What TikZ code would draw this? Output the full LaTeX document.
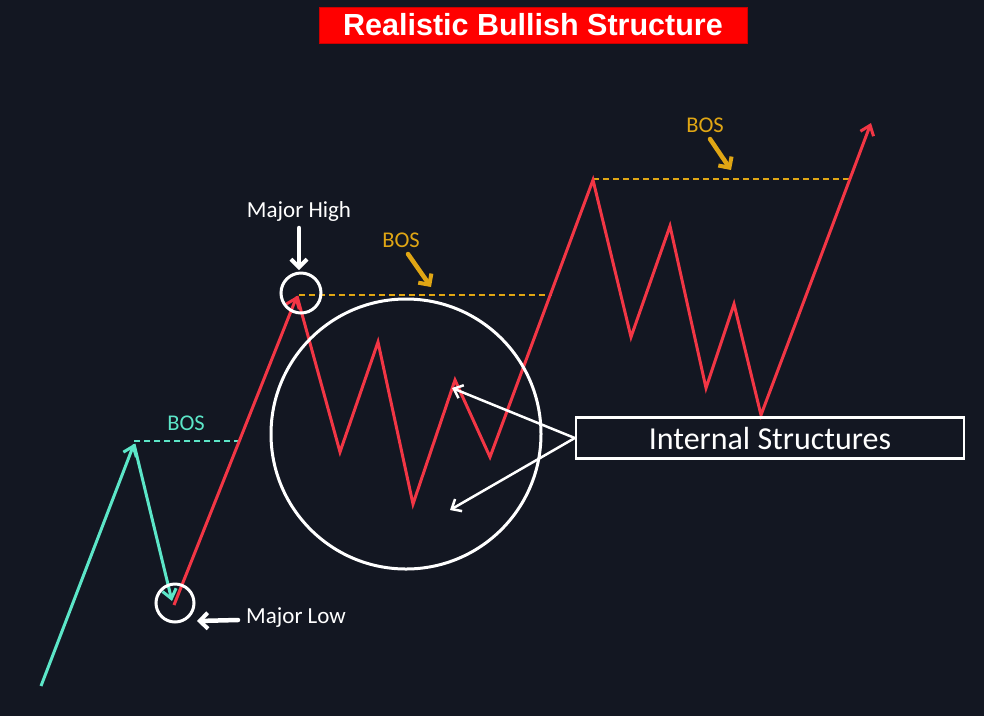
\documentclass[tikz,border=0pt]{standalone}
\usepackage{fontspec}
\setmainfont{Carlito}
\newfontfamily\titlefont{Liberation Sans}
\usetikzlibrary{arrows.meta}
\definecolor{bg}{HTML}{131722}
\definecolor{chartred}{HTML}{F23645}
\definecolor{chartcyan}{HTML}{5CE6C8}
\definecolor{bosyellow}{HTML}{E0A614}
\definecolor{titlered}{HTML}{FF0000}
\tikzset{
  redline/.style={draw=chartred, line width=3pt, line join=miter},
  cyanline/.style={draw=chartcyan, line width=3pt, line join=miter},
  tip/.style={-{Straight Barb[length=9pt,width=14pt,line width=3pt]}},
  bosline/.style={dashed, dash pattern=on 6pt off 4pt, line width=1.6pt},
  whitering/.style={draw=white, line width=3pt},
  lbl/.style={text=white, font=\fontsize{23}{27}\selectfont, inner sep=0pt},
  boslbl/.style={font=\fontsize{22.5}{26}\selectfont, inner sep=0pt},
  fatarrow/.style={line width=4.5pt, line cap=round, -{Straight Barb[length=8pt,width=16pt,line width=4pt]}},
  thinarrow/.style={draw=white, line width=2.5pt, -{Straight Barb[length=8pt,width=14pt,line width=2.5pt]}}
}
\begin{document}
\begin{tikzpicture}[x=1pt,y=-1pt]
\fill[bg] (0,0) rectangle (984,716);
\useasboundingbox (0,0) rectangle (984,716);

% title
\node[fill=titlered, draw=titlered!80!black, minimum width=428pt, minimum height=36pt, inner sep=0pt,
      text=white, font=\titlefont\bfseries\fontsize{30.5}{34}\selectfont] (title) at (533,25) {Realistic Bullish Structure};

% coordinates of the chart
\coordinate (c0) at (41,686);
\coordinate (c1) at (134,444);
\coordinate (c2) at (172,601);
\coordinate (r0) at (174,605);
\coordinate (mh) at (297,296);
\coordinate (p1) at (340,452);
\coordinate (p2) at (378,342);
\coordinate (p3) at (413,504);
\coordinate (p4) at (455,380);
\coordinate (p5) at (490,457);
\coordinate (p6) at (593,180);
\coordinate (p7) at (631,337);
\coordinate (p8) at (670,226);
\coordinate (p9) at (706,388);
\coordinate (p10) at (734,304);
\coordinate (p11) at (761,415);
\coordinate (top) at (871,123);

% BOS lines
\coordinate (b1s) at (134,441);
\coordinate (b1e) at (240,441);
\draw[bosline, draw=chartcyan] (b1s) -- (b1e);
\node[boslbl, text=chartcyan] (bos1) at (186,423) {BOS};

\coordinate (b2s) at (299,295);
\coordinate (b2e) at (552,295);
\draw[bosline, draw=bosyellow] (b2s) -- (b2e);
\node[boslbl, text=bosyellow] (bos2) at (401,240) {BOS};
\coordinate (a2s) at (408,254);
\coordinate (a2e) at (431,287);
\draw[fatarrow, draw=bosyellow] (a2s) -- (a2e);

\coordinate (b3s) at (593,179);
\coordinate (b3e) at (850,179);
\draw[bosline, draw=bosyellow] (b3s) -- (b3e);
\node[boslbl, text=bosyellow] (bos3) at (705,125) {BOS};
\coordinate (a3s) at (710,139);
\coordinate (a3e) at (731,170);
\draw[fatarrow, draw=bosyellow] (a3s) -- (a3e);

% cyan leg
\draw[cyanline, tip] (c0) -- (c1);
\draw[cyanline, tip] (c1) -- (c2);

% red legs
\draw[redline, tip] (r0) -- (mh);
\draw[redline, tip] (mh) -- (p1) -- (p2) -- (p3) -- (p4) -- (p5) -- (p6) -- (p7) -- (p8) -- (p9) -- (p10) -- (p11) -- (top);

% circles
\draw[whitering] (301,293) circle[radius=20];
\draw[whitering] (175,603) circle[radius=19];
\draw[whitering] (406,434) circle[radius=135];

% major labels
\node[lbl] (mhl) at (299,211) {Major High};
\coordinate (mha) at (299,228);
\coordinate (mhb) at (299,270);
\draw[fatarrow, draw=white] (mha) -- (mhb);

\node[lbl, anchor=west] (mll) at (246,618) {Major Low};
\coordinate (mla) at (238,620);
\coordinate (mlb) at (197,621);
\draw[fatarrow, draw=white] (mla) -- (mlb);

% internal structures
\node[draw=white, line width=2.5pt, minimum width=388pt, minimum height=41pt, inner sep=0pt,
      text=white, font=\fontsize{32}{36}\selectfont] (is) at (770,438) {Internal Structures};
\coordinate (ia) at (452,388);
\coordinate (ib) at (450,510);
\draw[thinarrow] (is.west) -- (ia);
\draw[thinarrow] (is.west) -- (ib);
\end{tikzpicture}
\end{document}
